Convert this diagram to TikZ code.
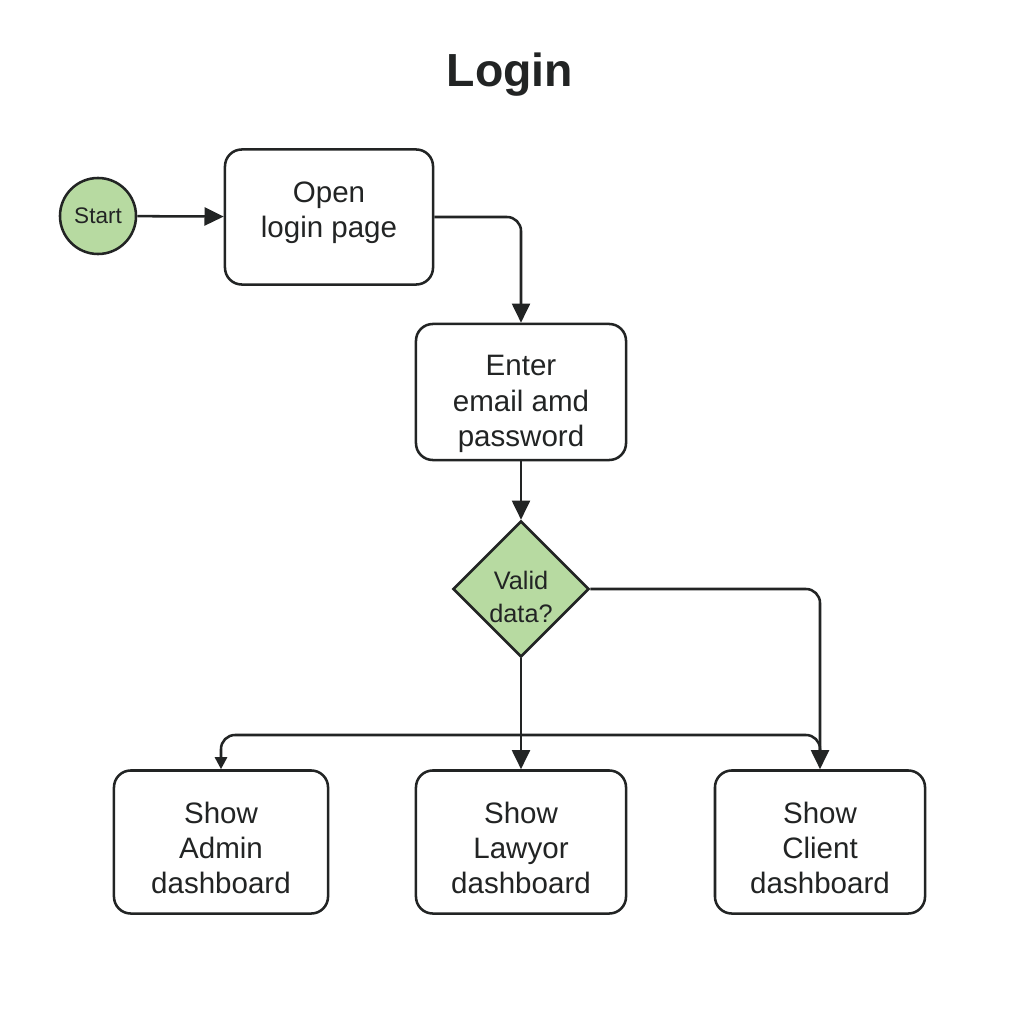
\documentclass[tikz,border=0pt]{standalone}
\usepackage{fontspec}
\setmainfont{Liberation Sans}
\usetikzlibrary{arrows.meta,shapes.geometric}
\definecolor{okgreen}{RGB}{183,218,161}
\definecolor{ink}{RGB}{34,36,36}

\begin{document}
\begin{tikzpicture}[x=0.025cm, y=-0.025cm,
		box/.style={draw=ink, line width=1.8pt, rounded corners=0.42cm, fill=white,
			minimum width=5.25cm, minimum height=3.4cm},
		boxtext/.style={align=center, inner sep=0pt, font=\fontsize{21}{25}\selectfont, text=ink},
		conn/.style={draw=ink, line width=1.8pt, rounded corners=0.35cm, -{Triangle[length=0.48cm, width=0.45cm]}}]
		%%%%% START %%%%%
		
		\useasboundingbox[fill=white] (0,0) rectangle (1024,1024);
		
		\node[font=\bfseries\fontsize{33}{38}\selectfont, text=ink] (title) at (510,75) {Login};
		
		\node[circle, draw=ink, line width=1.8pt, fill=okgreen, minimum size=1.9cm, inner sep=0pt,
			font=\fontsize{16}{19}\selectfont, text=ink] (start) at (98,216) {Start};
		
		\node[box, minimum width=5.2cm, minimum height=3.375cm] (open) at (329,217) {};
		\node[boxtext] (open-text) at ([yshift=0.1cm]open.center) {Open\\login page};
		
		\node[box] (enter) at (521,392) {};
		\node[boxtext] (enter-text) at ([yshift=-0.3cm]enter.center) {Enter\\email amd\\password};
		
		\node[diamond, draw=ink, line width=1.8pt, fill=okgreen, minimum size=3.4cm, inner sep=0pt] (valid) at (521,589) {};
		\node[boxtext, font=\fontsize{18}{23.5}\selectfont] (valid-text) at ([yshift=-0.2cm]valid.center) {Valid\\data?};
		
		\node[box, minimum width=5.35cm, minimum height=3.575cm] (admin) at (221,842) {};
		\node[boxtext] (admin-text) at ([yshift=-0.15cm]admin.center) {Show\\Admin\\dashboard};
		\node[box, minimum height=3.575cm] (lawyer) at (521,842) {};
		\node[boxtext] (lawyer-text) at ([yshift=-0.15cm]lawyer.center) {Show\\Lawyor\\dashboard};
		\node[box, minimum height=3.575cm] (client) at (820,842) {};
		\node[boxtext] (client-text) at ([yshift=-0.15cm]client.center) {Show\\Client\\dashboard};
		
		\draw[conn] (start) -- (open);
		\draw[conn] (open.east) -| (enter.north);
		\draw[conn] (enter) -- (valid);
		\draw[conn] (valid) -- (lawyer);
		\draw[conn] (valid.east) -| (client.north);
		
		\coordinate (fork) at (820,760);
		\coordinate (rail) at (521,735);
		\draw[conn, -{Triangle[length=0.3cm, width=0.3cm]}] (fork) |- (rail) -| (admin.north);
		
		%%%%% END %%%%%
	\end{tikzpicture}
\end{document}
